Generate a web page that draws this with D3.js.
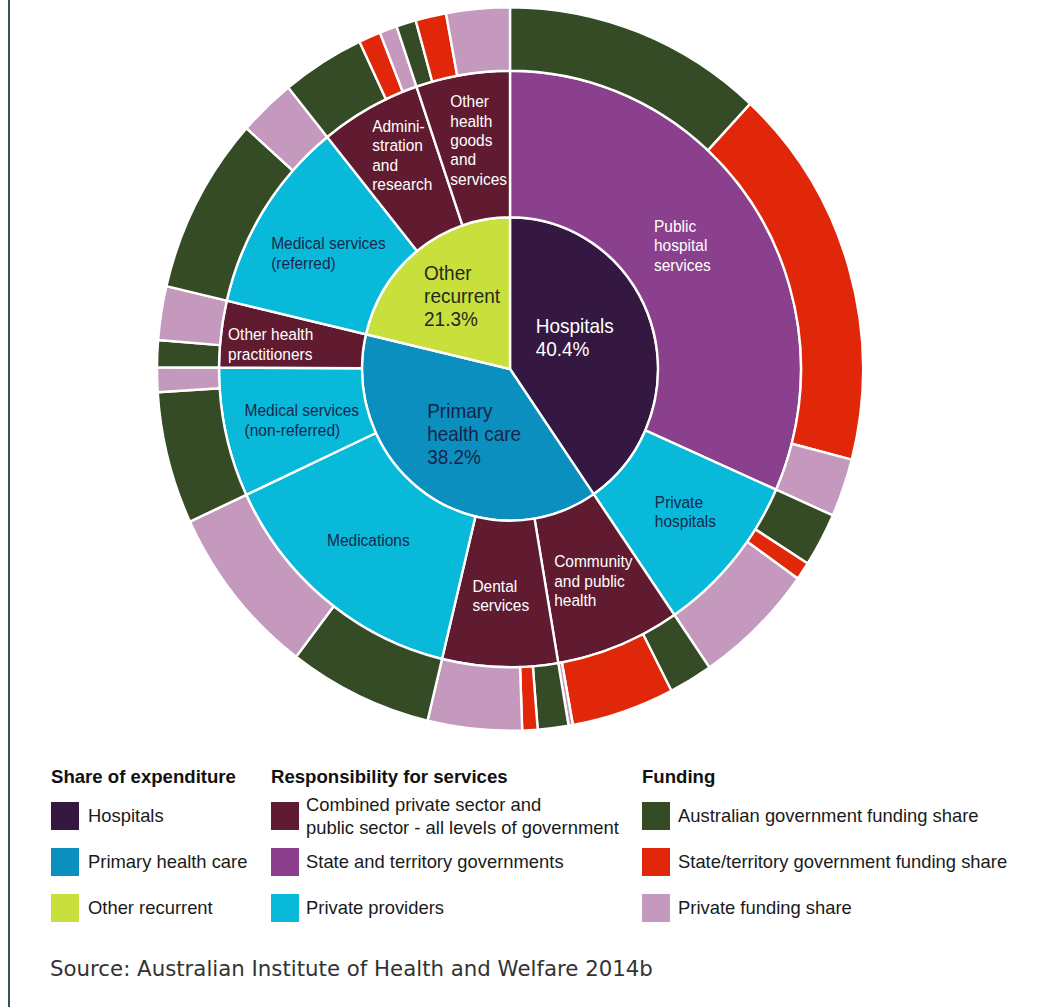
<!DOCTYPE html>
<html lang="en">
<head>
<meta charset="utf-8">
<title>Health expenditure by area, provider and funder</title>
<script src="https://cdn.jsdelivr.net/npm/d3@7"></script>
<style>
  body { margin: 0; background: #fff; }
  svg { display: block; }
  text { font-family: "Liberation Sans", Arial, sans-serif; }
</style>
</head>
<body>
<svg width="1044" height="1007"></svg>
<script>
const svg = d3.select("svg");
const w = 1044, h = 1007;
const cx = 510, cy = 369;

// inner ring: share of expenditure (%)
const groups = ["Hospitals", "Primary health care", "Other recurrent"];
const groupShare = [40.4, 38.2, 21.3];

// middle ring: services, which group they sit in, and who is responsible
const services = ["Public hospital services", "Private hospitals", "Community and public health",
  "Dental services", "Medications", "Medical services (non-referred)", "Other health practitioners",
  "Medical services (referred)", "Administration and research", "Other health goods and services"];
const serviceGroup = [0, 0, 1, 1, 1, 1, 1, 2, 2, 2];
const serviceResp = ["state", "private", "combined", "combined", "private", "private", "combined",
  "private", "combined", "combined"];

// outer ring: funding share of total expenditure (%) for each service
const ausShare   = [11.9, 2.4, 2.0, 1.4, 6.6, 5.9, 1.2, 7.9, 3.8, 0.9];
const stateShare = [17.1, 0.8, 4.7, 0.7, 0,   0,   0,   0,   1.0, 1.4];
const privShare  = [2.6,  5.6, 0.2, 4.3, 7.7, 1.1, 2.4, 2.6, 0.8, 2.9];

// label text
const groupLines = [["Hospitals"], ["Primary", "health care"], ["Other", "recurrent"]];
const serviceLines = [["Public", "hospital", "services"], ["Private", "hospitals"],
  ["Community", "and public", "health"], ["Dental", "services"], ["Medications"],
  ["Medical services", "(non-referred)"], ["Other health", "practitioners"],
  ["Medical services", "(referred)"], ["Admini-", "stration", "and", "research"],
  ["Other", "health", "goods", "and", "services"]];

// colours
const groupColor = ["#341842", "#0a8fbe", "#c9df3c"];
const respColor = {combined: "#601b31", state: "#8b408d", private: "#09b9da"};
const fundColor = {aus: "#354b25", state: "#e0270a", private: "#c598bd"};
const fundKeys = ["aus", "state", "private"];
const fundShares = {aus: ausShare, state: stateShare, private: privShare};

// label nudges from arc centroid (first line baseline, text-anchor start)
const groupNudge = [[-45, -13], [-41, -13], [-40, -29]];
const serviceNudge = [[-40, -14], [-24, -5], [-38, -10], [-30, -2], [-44, 3],
  [-51, -1], [-64, -2], [-53, 0], [-32, -39], [-24, -39]];

const rings = [[0, 0], [0, 148], [148, 291], [291, 353]];

// hierarchy
const root = d3.hierarchy({
  name: "Total",
  children: groups.map((g, gi) => ({
    name: g, kind: "group", idx: gi,
    children: services.map((s, si) => si).filter(si => serviceGroup[si] === gi).map(si => ({
      name: services[si], kind: "service", idx: si, resp: serviceResp[si],
      children: fundKeys.filter(k => fundShares[k][si] > 0)
        .map(k => ({name: k, kind: "fund", fund: k, value: fundShares[k][si]}))
    }))
  }))
}).sum(d => d.value || 0);

d3.partition().size([2 * Math.PI, 1])(root);

const arc = d3.arc()
  .startAngle(d => d.x0)
  .endAngle(d => d.x1)
  .innerRadius(d => rings[d.depth][0])
  .outerRadius(d => rings[d.depth][1]);

const fillOf = d => d.data.kind === "group" ? groupColor[d.data.idx]
  : d.data.kind === "service" ? respColor[d.data.resp]
  : fundColor[d.data.fund];

// left frame line
svg.append("line")
  .attr("x1", 9).attr("x2", 9).attr("y1", 0).attr("y2", h)
  .style("stroke", "#2d5659").style("stroke-width", 2);

const chart = svg.append("g")
  .attr("transform", `translate(${cx},${cy}) scale(1,1.025)`);

chart.selectAll("path")
  .data(root.descendants().filter(d => d.depth > 0))
  .join("path")
  .attr("d", arc)
  .style("fill", fillOf)
  .style("stroke", "#fff")
  .style("stroke-width", 2.4)
  .style("stroke-linejoin", "round");

// group labels
const fmt = d3.format(".1f");
const groupNodes = root.children;
chart.selectAll("text.group")
  .data(groupNodes)
  .join("text")
  .attr("class", "group")
  .each(function(d) {
    const [x, y] = arc.centroid(d);
    const n = groupNudge[d.data.idx];
    const lines = groupLines[d.data.idx].concat([fmt(groupShare[d.data.idx]) + "%"]);
    d3.select(this).selectAll("tspan")
      .data(lines)
      .join("tspan")
      .attr("x", x + n[0])
      .attr("y", (t, i) => y + n[1] + i * 22.5)
      .text(t => t);
  })
  .style("font-size", "19px")
  .style("fill", d => d.data.idx === 0 ? "#fff" : (d.data.idx === 1 ? "#17244a" : "#1f2a1c"));

// service labels
const serviceNodes = root.descendants().filter(d => d.depth === 2);
chart.selectAll("text.service")
  .data(serviceNodes)
  .join("text")
  .attr("class", "service")
  .each(function(d) {
    const [x, y] = arc.centroid(d);
    const n = serviceNudge[d.data.idx];
    d3.select(this).selectAll("tspan")
      .data(serviceLines[d.data.idx])
      .join("tspan")
      .attr("x", x + n[0])
      .attr("y", (t, i) => y + n[1] + i * 19)
      .text(t => t);
  })
  .style("font-size", "15.5px")
  .style("fill", d => d.data.resp === "private" ? "#15294d" : "#fff");

// legend
const legendTitles = ["Share of expenditure", "Responsibility for services", "Funding"];
const legendItems = [
  [{lines: ["Hospitals"], color: groupColor[0]},
   {lines: ["Primary health care"], color: groupColor[1]},
   {lines: ["Other recurrent"], color: groupColor[2]}],
  [{lines: ["Combined private sector and", "public sector - all levels of government"], color: respColor.combined},
   {lines: ["State and territory governments"], color: respColor.state},
   {lines: ["Private providers"], color: respColor.private}],
  [{lines: ["Australian government funding share"], color: fundColor.aus},
   {lines: ["State/territory government funding share"], color: fundColor.state},
   {lines: ["Private funding share"], color: fundColor.private}]
];
const colX = [51, 271, 642];
const textGap = [37, 35, 36];
const rowY = [802, 848, 894];
const box = 28;

const legend = svg.append("g");
legendTitles.forEach((t, c) => {
  legend.append("text")
    .attr("x", colX[c]).attr("y", 783)
    .style("font-size", "18.6px").style("font-weight", "bold").style("fill", "#111")
    .text(t);
  legendItems[c].forEach((it, r) => {
    legend.append("rect")
      .attr("x", colX[c]).attr("y", rowY[r])
      .attr("width", box).attr("height", box)
      .style("fill", it.color);
    const tx = legend.append("text")
      .style("font-size", "18.4px").style("fill", "#1a1a1a");
    tx.selectAll("tspan")
      .data(it.lines)
      .join("tspan")
      .attr("x", colX[c] + textGap[c])
      .attr("y", (l, i) => rowY[r] + box / 2 + 6 + (i - (it.lines.length - 1) / 2) * 23)
      .text(l => l);
  });
});

svg.append("text")
  .attr("x", 50).attr("y", 976)
  .style("font-family", "'DejaVu Sans', Verdana, sans-serif")
  .style("font-size", "21.3px")
  .style("fill", "#333")
  .text("Source: Australian Institute of Health and Welfare 2014b");
</script>
</body>
</html>
